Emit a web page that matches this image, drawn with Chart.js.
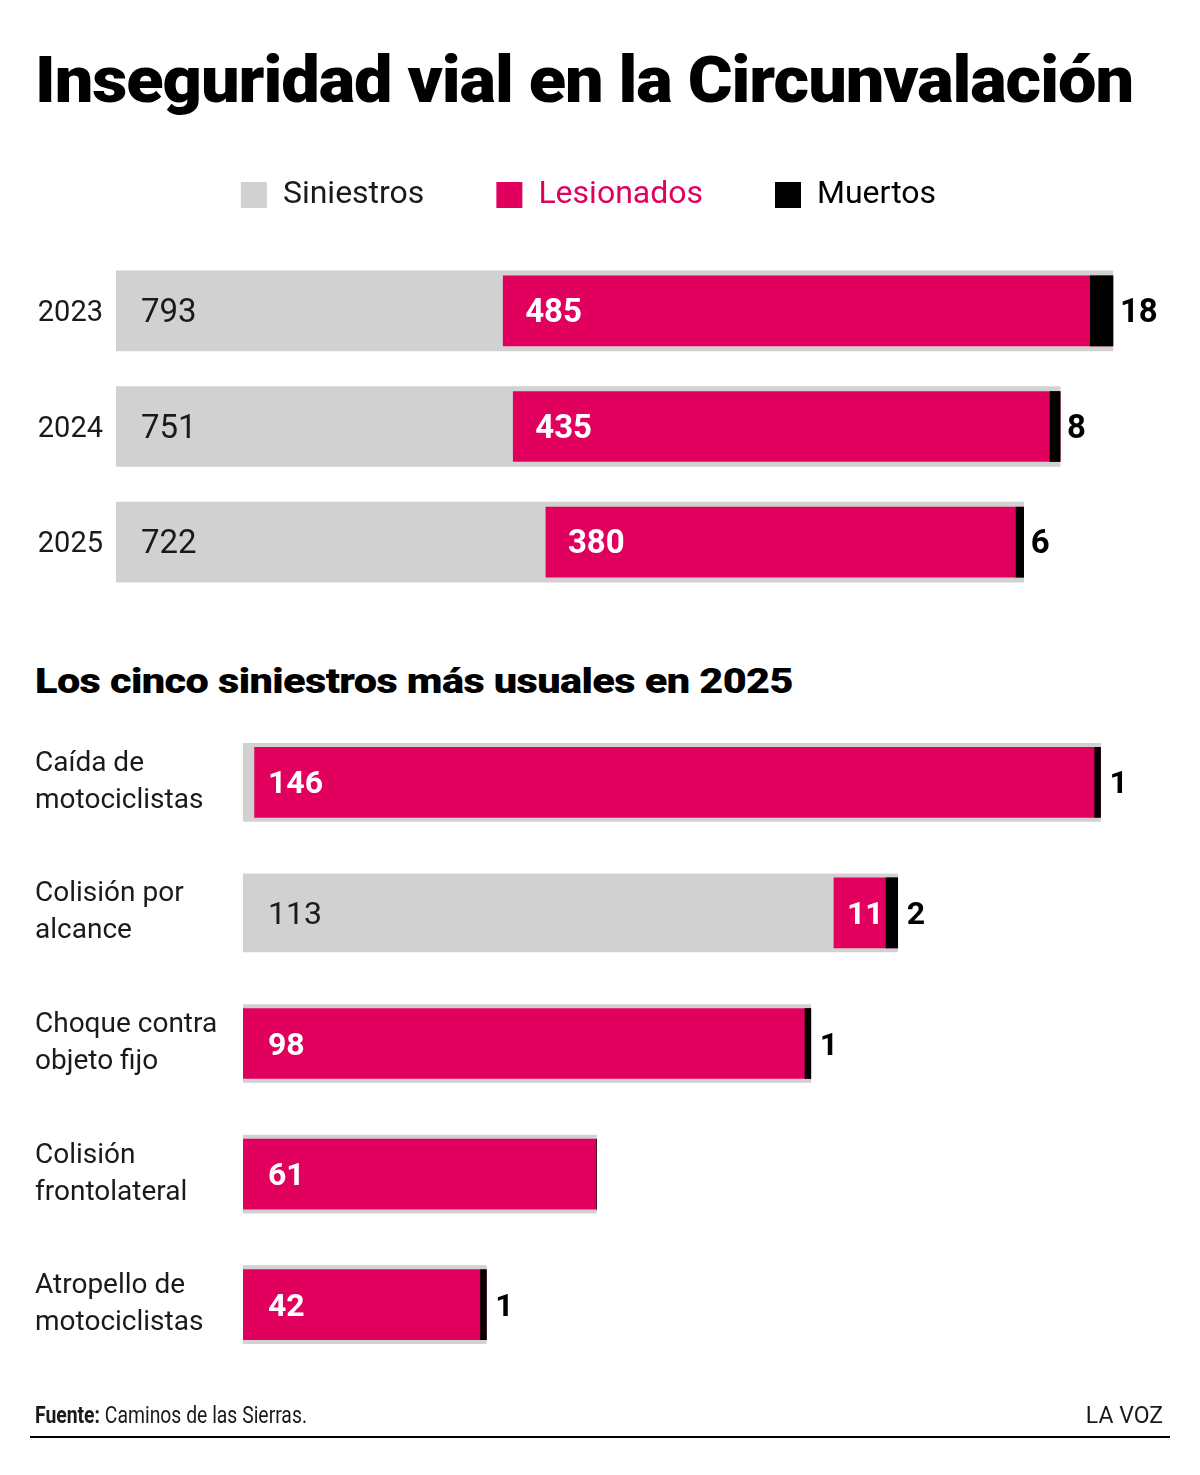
<!DOCTYPE html>
<html lang="es">
<head>
<meta charset="utf-8">
<title>Inseguridad vial en la Circunvalación</title>
<script src="https://cdn.jsdelivr.net/npm/chart.js@4.4.1/dist/chart.umd.min.js"></script>
<style>
    html, body { margin: 0; padding: 0; background: #fff; }
    body { position: relative; width: 1200px; height: 1475px; overflow: hidden; font-family: Roboto, "Noto Sans", sans-serif; color: #1a1a1a; }
    canvas { position: absolute; left: 0; }
    .texto { position: absolute; white-space: nowrap; line-height: 1; transform-origin: left top; }
    #titulo { left: 35px; top: 49px; font-size: 64px; font-weight: 900; color: #000; letter-spacing: -1px; }
    #subtitulo { left: 35px; top: 664px; font-size: 35px; font-weight: 900; color: #000; letter-spacing: -0.5px; }
    #fuente { left: 35px; top: 1404px; font-size: 23px; }
    #firma { right: 37px; top: 1404px; font-size: 23px; }
    #linea { position: absolute; left: 30px; top: 1436px; width: 1140px; height: 2px; background: #000; }
    #grafico-anios { top: 100px; }
    #grafico-tipos { top: 677px; }
</style>
</head>
<body>
<div id="titulo" class="texto">Inseguridad vial en la Circunvalación</div>
<canvas id="grafico-anios" width="1200" height="524"></canvas>
<div id="subtitulo" class="texto">Los cinco siniestros más usuales en 2025</div>
<canvas id="grafico-tipos" width="1200" height="733"></canvas>
<div id="fuente" class="texto"><b>Fuente:</b> Caminos de las Sierras.</div>
<div id="firma" class="texto">LA VOZ</div>
<div id="linea"></div>

<script>
// Datos por año
const anios = ['2023', '2024', '2025'];
const siniestrosAnio = [793, 751, 722];
const lesionadosAnio = [485, 435, 380];
const muertosAnio = [18, 8, 6];

// Los cinco siniestros más usuales en 2025
const tipos = [
    ['Caída de', 'motociclistas'],
    ['Colisión por', 'alcance'],
    ['Choque contra', 'objeto fijo'],
    ['Colisión', 'frontolateral'],
    ['Atropello de', 'motociclistas']
];
const siniestrosTipo = [148, 113, 98, 61, 42];
const lesionadosTipo = [146, 11, 98, 61, 42];
const muertosTipo = [1, 2, 1, 0, 1];

const series = ['Siniestros', 'Lesionados', 'Muertos'];

var fuente = 'Roboto, "Noto Sans", sans-serif';
var gris = '#d1d1d1';
var rosa = '#e2005f';
var negro = '#000000';
var colorTexto = '#1a1a1a';

Chart.defaults.font.family = fuente;
Chart.defaults.color = colorTexto;

// Numbers written on the bars
const etiquetasPlugin = {
    id: 'etiquetas',
    afterDatasetsDraw(chart, args, opts) {
        const ctx = chart.ctx;
        const ds = chart.data.datasets;
        const metaRosa = chart.getDatasetMeta(1);
        const metaNegro = chart.getDatasetMeta(2);
        ctx.save();
        ctx.textBaseline = 'middle';
        ctx.textAlign = 'left';
        chart.getDatasetMeta(0).data.forEach(function(barra, i) {
            const g = barra.getProps(['x', 'y', 'base'], true);
            const r = metaRosa.data[i].getProps(['x', 'base'], true);
            const n = metaNegro.data[i].getProps(['x', 'base'], true);
            const y = g.y + 3;
            // siniestros only when the pink bar leaves room for it
            if (r.base - g.base > 60) {
                ctx.font = '400 ' + opts.size + 'px ' + fuente;
                ctx.fillStyle = colorTexto;
                ctx.fillText(ds[0].valores[i], g.base + 25, y);
            }
            ctx.font = '700 ' + opts.size + 'px ' + fuente;
            ctx.fillStyle = '#ffffff';
            ctx.fillText(ds[1].valores[i], Math.max(g.base + 25, r.base + opts.margenRosa), y);
            if (ds[2].valores[i] > 0) {
                ctx.fillStyle = negro;
                ctx.fillText(ds[2].valores[i], n.x + opts.margenNegro, y);
            }
        });
        ctx.restore();
    }
};

function datasets(siniestros, lesionados, muertos, grueso, fino) {
    // bars overlap and all end at the siniestros value
    return [{
        label: series[0],
        data: siniestros.map(v => [0, v]),
        valores: siniestros,
        backgroundColor: gris,
        borderColor: gris,
        borderWidth: 0,
        barThickness: grueso,
        order: 3
    }, {
        label: series[1],
        data: siniestros.map((v, i) => [v - lesionados[i], v]),
        valores: lesionados,
        backgroundColor: rosa,
        borderColor: rosa,
        borderWidth: 0,
        barThickness: fino,
        order: 2
    }, {
        label: series[2],
        data: siniestros.map((v, i) => [v - muertos[i], v]),
        valores: muertos,
        backgroundColor: negro,
        borderColor: negro,
        borderWidth: 0,
        barThickness: fino,
        order: 1
    }];
}

graficoAnios();
graficoTipos();
ajustarTextos();

function graficoAnios() {
    var ctx = document.getElementById('grafico-anios');
    const coloresLeyenda = [colorTexto, rosa, negro];

    // Chart config
    const config = {
        type: 'bar',
        data: {
            labels: anios,
            datasets: datasets(siniestrosAnio, lesionadosAnio, muertosAnio, 80, 70)
        },
        options: {
            indexAxis: 'y',
            responsive: false,
            animation: false,
            layout: { padding: { top: 7, right: 23, bottom: 24, left: 0 } },
            scales: {
                x: {
                    position: 'top',
                    stacked: false,
                    min: 0,
                    max: 844,
                    grid: { display: false },
                    border: { display: false },
                    ticks: { display: false },
                    afterFit: function(scale) { scale.height = 32; }
                },
                y: {
                    stacked: true,
                    grid: { display: false },
                    border: { display: false },
                    ticks: { padding: 5, labelOffset: 3, color: colorTexto, font: { size: 29 } },
                    afterFit: function(scale) { scale.width = 116; }
                }
            },
            plugins: {
                legend: {
                    display: true,
                    position: 'top',
                    labels: {
                        boxWidth: 26,
                        boxHeight: 26,
                        padding: 72,
                        font: { size: 32 },
                        generateLabels: function(chart) {
                            const items = Chart.defaults.plugins.legend.labels.generateLabels(chart);
                            items.forEach(function(item) {
                                item.fontColor = coloresLeyenda[item.datasetIndex];
                                item.lineWidth = 0;
                            });
                            return items.sort((a, b) => a.datasetIndex - b.datasetIndex);
                        }
                    }
                },
                tooltip: { enabled: false },
                etiquetas: { size: 33, margenRosa: 22, margenNegro: 7 }
            }
        },
        plugins: [etiquetasPlugin]
    };
    var myChart = new Chart(ctx, config);
}

function graficoTipos() {
    var ctx = document.getElementById('grafico-tipos');

    // Chart config
    const config = {
        type: 'bar',
        data: {
            labels: tipos,
            datasets: datasets(siniestrosTipo, lesionadosTipo, muertosTipo, 78, 70)
        },
        options: {
            indexAxis: 'y',
            responsive: false,
            animation: false,
            layout: { padding: { top: 40, right: 30, bottom: 40, left: 35 } },
            scales: {
                x: {
                    display: false,
                    stacked: false,
                    min: 0,
                    max: 160
                },
                y: {
                    stacked: true,
                    grid: { display: false },
                    border: { display: false },
                    ticks: {
                        crossAlign: 'far',
                        padding: 3,
                        color: colorTexto,
                        font: { size: 28, lineHeight: 1.32 }
                    },
                    afterFit: function(scale) { scale.width = 208; }
                }
            },
            plugins: {
                legend: { display: false },
                tooltip: { enabled: false },
                etiquetas: { size: 32, margenRosa: 13, margenNegro: 9 }
            }
        },
        plugins: [etiquetasPlugin]
    };
    var myChart = new Chart(ctx, config);
}

// squeeze the headings to the width they have in the print version
function ajustarTextos() {
    [['titulo', 1098], ['subtitulo', 758], ['fuente', 272]].forEach(function(par) {
        var el = document.getElementById(par[0]);
        var ancho = el.getBoundingClientRect().width;
        el.style.transform = 'scaleX(' + (par[1] / ancho) + ')';
    });
}
</script>
</body>
</html>
